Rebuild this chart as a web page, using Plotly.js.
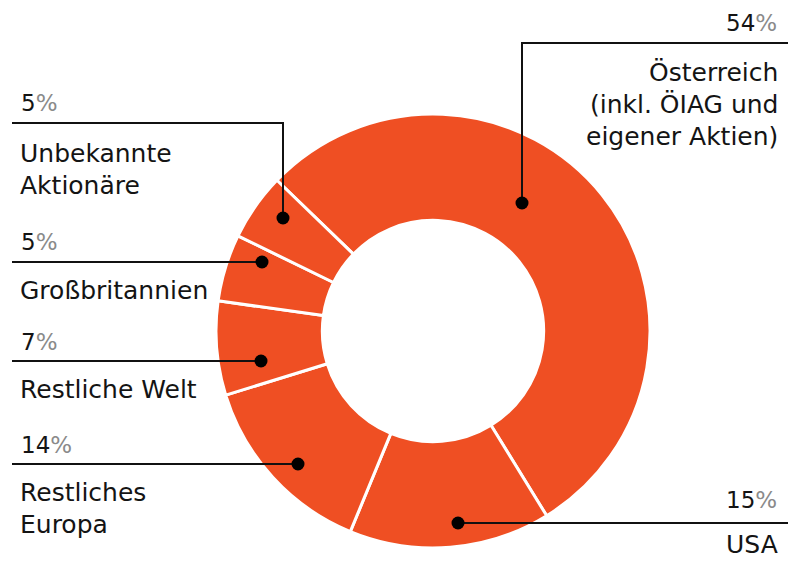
<!DOCTYPE html>
<html>
<head>
<meta charset="utf-8">
<script src="https://cdn.plot.ly/plotly-3.0.1.min.js"></script>
<style>html,body{margin:0;padding:0;background:#fff;}#chart{width:788px;height:561px;}</style>
</head>
<body>
<div id="chart"></div>
<script>
// Data
const categories = ["Österreich (inkl. ÖIAG und eigener Aktien)", "USA", "Restliches Europa", "Restliche Welt", "Großbritannien", "Unbekannte Aktionäre"];
const shares = [54, 15, 14, 7, 5, 5];
const labelLines = [["Österreich", "(inkl. ÖIAG und", "eigener Aktien)"], ["USA"], ["Restliches", "Europa"], ["Restliche Welt"], ["Großbritannien"], ["Unbekannte", "Aktionäre"]];

const W = 788, H = 561;
const X = px => px / W;
const Y = py => 1 - py / H;
const ORANGE = '#EF4F23';
const TXT = '#141414';
const FONT = 'DejaVu Sans, sans-serif';

// Label placement (layout only)
const place = [
  {side: 'right', dot: [522, 203], lineY: 43, pctY: 23, labY: 72},
  {side: 'right', dot: [458, 523], lineY: 523, pctY: 500, labY: 544},
  {side: 'left', dot: [298, 464], lineY: 464, pctY: 445, labY: 492},
  {side: 'left', dot: [261, 361], lineY: 361, pctY: 342, labY: 389},
  {side: 'left', dot: [262, 262], lineY: 262, pctY: 242, labY: 290},
  {side: 'left', dot: [283, 218], lineY: 123, pctY: 103, labY: 153}
];

const shapes = [];
const annotations = [];
const LH = 32;
place.forEach((p, i) => {
  const [dx, dy] = p.dot;
  const lineCol = '#111';
  if (p.side === 'right') {
    shapes.push({type: 'path', xref: 'paper', yref: 'paper',
      path: `M ${X(dx)} ${Y(dy)} L ${X(dx)} ${Y(p.lineY)} L ${X(W)} ${Y(p.lineY)}`,
      line: {color: lineCol, width: 2}});
  } else {
    shapes.push({type: 'path', xref: 'paper', yref: 'paper',
      path: `M ${X(12)} ${Y(p.lineY)} L ${X(dx)} ${Y(p.lineY)} L ${X(dx)} ${Y(dy)}`,
      line: {color: lineCol, width: 2}});
  }
  const r = 6.5;
  shapes.push({type: 'circle', xref: 'paper', yref: 'paper',
    x0: X(dx - r), x1: X(dx + r), y0: Y(dy + r), y1: Y(dy - r),
    fillcolor: '#000', line: {color: '#000', width: 0}});
  const xa = p.side === 'right' ? 'right' : 'left';
  const tx = p.side === 'right' ? X(779) : X(19);
  annotations.push({xref: 'paper', yref: 'paper', x: tx, y: Y(p.pctY), xanchor: xa, yanchor: 'middle',
    showarrow: false, text: shares[i] + '<span style="color:#8a8a8a">%</span>',
    font: {family: FONT, size: 23, color: TXT}});
  labelLines[i].forEach((t, k) => {
    annotations.push({xref: 'paper', yref: 'paper', x: tx, y: Y(p.labY + k * LH), xanchor: xa, yanchor: 'middle',
      showarrow: false, borderpad: 0, text: t, font: {family: FONT, size: 25, color: TXT}});
  });
});

const trace = {
  type: 'pie',
  labels: categories,
  values: shares,
  sort: false,
  direction: 'clockwise',
  rotation: -46,
  hole: 0.51,
  textinfo: 'none',
  hoverinfo: 'none',
  marker: {colors: categories.map(() => ORANGE), line: {color: '#ffffff', width: 3}},
  domain: {x: [216 / W, 650 / W], y: [(H - 548) / H, (H - 114) / H]},
  showlegend: false
};

Plotly.newPlot('chart', [trace], {
  width: W, height: H,
  margin: {l: 0, r: 0, t: 0, b: 0},
  paper_bgcolor: '#fff',
  showlegend: false,
  shapes: shapes,
  annotations: annotations
}, {displayModeBar: false, staticPlot: true});
</script>
</body>
</html>
